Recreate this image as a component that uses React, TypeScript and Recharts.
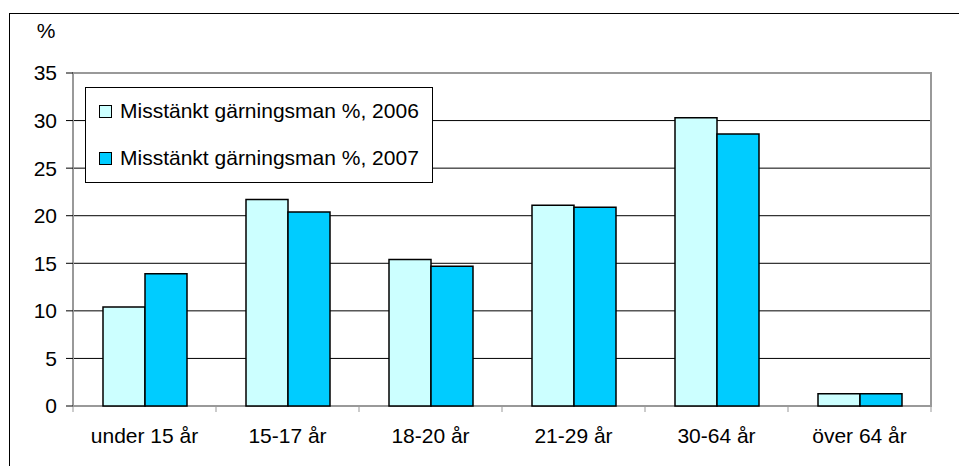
import { BarChart, Bar, XAxis, YAxis, CartesianGrid, ReferenceArea, Legend } from "recharts";

const ageGroups = ["under 15 år", "15-17 år", "18-20 år", "21-29 år", "30-64 år", "över 64 år"];
const suspects2006 = [10.4, 21.7, 15.4, 21.1, 30.3, 1.3];
const suspects2007 = [13.9, 20.4, 14.7, 20.9, 28.6, 1.3];
const yTicks = [0, 5, 10, 15, 20, 25, 30, 35];
const seriesNames = ["Misstänkt gärningsman %, 2006", "Misstänkt gärningsman %, 2007"];
const seriesColors = ["#CCFFFF", "#00CCFF"];

const W = 959;
const H = 466;
const MARGIN = { top: 73, right: 28, bottom: 0, left: 0 };
const Y_AXIS_W = 73;
const BAND = (W - Y_AXIS_W - MARGIN.right) / ageGroups.length;
const FONT = "'Liberation Sans', Arial, sans-serif";

const data = ageGroups.map((g, i) => ({
  group: g,
  y2006: suspects2006[i],
  y2007: suspects2007[i],
}));

const XTick = ({ x, y, payload, index }: any) => {
  const half = BAND / 2;
  return (
    <g>
      <line x1={x - half} x2={x - half} y1={y} y2={y + 6} stroke="#999" strokeWidth={1} />
      {index === ageGroups.length - 1 && (
        <line x1={x + half} x2={x + half} y1={y} y2={y + 6} stroke="#999" strokeWidth={1} />
      )}
      <text x={x} y={y + 37} textAnchor="middle" fill="#000" style={{ fontSize: 21, fontFamily: FONT }}>
        {payload.value}
      </text>
    </g>
  );
};

const LegendBox = ({ payload }: any) => (
  <div style={{ width: 346, height: 94, border: "1px solid #000", background: "#fff", fontFamily: FONT, fontSize: 21, color: "#000", position: "relative" }}>
    {(payload || []).map((entry: any, i: number) => (
      <div key={i} style={{ position: "absolute", left: 13, top: 10 + i * 47, height: 26, display: "flex", alignItems: "center", whiteSpace: "nowrap" }}>
        <span style={{ display: "inline-block", width: 11, height: 11, border: "1px solid #000", background: entry.color, marginRight: 8 }} />
        <span>{entry.value}</span>
      </div>
    ))}
  </div>
);

export default function App() {
  return (
    <div style={{ position: "absolute", left: 0, top: 0, width: W, height: H, overflow: "hidden", background: "#fff" }}>
      <div style={{ position: "absolute", left: 9, top: 13, width: 980, height: 500, border: "1px solid #000" }} />
      <div style={{ position: "absolute", left: 0, top: 0 }}>
        <BarChart width={W} height={H} data={data} margin={MARGIN} barSize={42} barGap={0}>
          <CartesianGrid vertical={false} stroke="#000" strokeWidth={1} />
          <ReferenceArea y1={0} y2={35} fill="none" stroke="#999" strokeWidth={2} />
          <XAxis dataKey="group" height={60} axisLine={false} tickLine={false} tickSize={0} tickMargin={0}
            interval={0} tick={<XTick />} />
          <YAxis width={Y_AXIS_W} domain={[0, 35]} ticks={yTicks} axisLine={false} tickSize={7} tickMargin={9}
            tickLine={{ stroke: "#000" }} interval={0}
            tick={{ fill: "#000", fontSize: 21, fontFamily: FONT }}
            label={{ content: () => (
              <text x={46} y={38} textAnchor="middle" fill="#000" style={{ fontSize: 21, fontFamily: FONT }}>%</text>
            ) }} />
          <Legend layout="horizontal" align="center" verticalAlign="middle" content={<LegendBox />}
            wrapperStyle={{ left: 85, top: 87, width: 348, height: 96 }} />
          <Bar dataKey="y2006" name={seriesNames[0]} fill={seriesColors[0]} stroke="#000" strokeWidth={1.5} isAnimationActive={false} />
          <Bar dataKey="y2007" name={seriesNames[1]} fill={seriesColors[1]} stroke="#000" strokeWidth={1.5} isAnimationActive={false} />
        </BarChart>
      </div>
    </div>
  );
}
